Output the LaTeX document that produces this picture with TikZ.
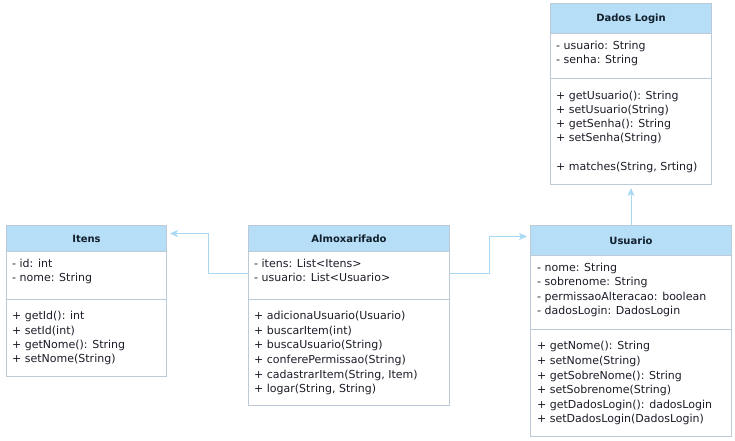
\documentclass[tikz,border=0pt]{standalone}
\usepackage{fontspec}
\setmainfont{DejaVu Sans}
\usetikzlibrary{arrows.meta}
\definecolor{headcol}{HTML}{B6DEF6}
\definecolor{bordcol}{HTML}{BCC9D6}
\definecolor{txtcol}{HTML}{1C1C28}
\definecolor{titcol}{HTML}{13202E}
\definecolor{conncol}{HTML}{A9D8F2}
\tikzset{
  classbox/.style={draw=bordcol, line width=1pt, fill=white, inner sep=0pt},
  headbox/.style={draw=bordcol, line width=1pt, fill=headcol, inner sep=0pt, text=titcol, font=\fontsize{10}{12}\selectfont\bfseries},
  sepline/.style={draw=bordcol, line width=1pt},
  mem/.style={anchor=west, inner sep=0pt, text=txtcol, font=\fontsize{11}{13}\selectfont, text height=8pt, text depth=2pt},
  conn/.style={draw=conncol, line width=1pt, -{Stealth[length=8pt,width=7pt,inset=2pt]}, shorten >=3pt}
}
\begin{document}
\begin{tikzpicture}[x=1pt,y=-1pt]
\useasboundingbox (0,0) rectangle (735,440);

% Itens
\node[classbox, minimum width=160pt, minimum height=151pt] (itens) at (86.5,301) {};
\node[headbox, minimum width=160pt, minimum height=26pt, anchor=north] (itensH) at (itens.north) {Itens};
\draw[sepline] (6.5,299.5) -- (166.5,299.5);
\node[mem] (i1) at (12,264.5) {- id: int};
\node[mem] (i2) at (12,278.5) {- nome: String};
\node[mem] (i3) at (12,316.5) {+ getId(): int};
\node[mem] (i4) at (12,331) {+ setId(int)};
\node[mem] (i5) at (12,345.5) {+ getNome(): String};
\node[mem] (i6) at (12,359.5) {+ setNome(String)};

% Almoxarifado
\node[classbox, minimum width=201pt, minimum height=180pt] (almox) at (349,315.5) {};
\node[headbox, minimum width=201pt, minimum height=26pt, anchor=north] (almoxH) at (almox.north) {Almoxarifado};
\draw[sepline] (248.5,299.5) -- (449.5,299.5);
\node[mem] (a1) at (254,264.5) {- itens: List<Itens>};
\node[mem] (a2) at (254,278.5) {- usuario: List<Usuario>};
\node[mem] (a3) at (254,316.5) {+ adicionaUsuario(Usuario)};
\node[mem] (a4) at (254,331) {+ buscarItem(int)};
\node[mem] (a5) at (254,345.5) {+ buscaUsuario(String)};
\node[mem] (a6) at (254,360) {+ conferePermissao(String)};
\node[mem] (a7) at (254,375) {+ cadastrarItem(String, Item)};
\node[mem] (a8) at (254,389.5) {+ logar(String, String)};

% Usuario
\node[classbox, minimum width=201pt, minimum height=211pt] (usu) at (631,331) {};
\node[headbox, minimum width=201pt, minimum height=30pt, anchor=north] (usuH) at (usu.north) {Usuario};
\draw[sepline] (530.5,329.5) -- (731.5,329.5);
\node[mem] (u1) at (537,268) {- nome: String};
\node[mem] (u2) at (537,282.5) {- sobrenome: String};
\node[mem] (u3) at (537,297) {- permissaoAlteracao: boolean};
\node[mem] (u4) at (537,311.5) {- dadosLogin: DadosLogin};
\node[mem] (u5) at (537,346.5) {+ getNome(): String};
\node[mem] (u6) at (537,361) {+ setNome(String)};
\node[mem] (u7) at (537,376) {+ getSobreNome(): String};
\node[mem] (u8) at (537,390) {+ setSobrenome(String)};
\node[mem] (u9) at (537,405) {+ getDadosLogin(): dadosLogin};
\node[mem] (u10) at (537,419.5) {+ setDadosLogin(DadosLogin)};

% Dados Login
\node[classbox, minimum width=161pt, minimum height=181pt] (dados) at (631,94) {};
\node[headbox, minimum width=161pt, minimum height=30pt, anchor=north] (dadosH) at (dados.north) {Dados Login};
\draw[sepline] (550.5,78.5) -- (711.5,78.5);
\node[mem] (d1) at (556,46.5) {- usuario: String};
\node[mem] (d2) at (556,60.5) {- senha: String};
\node[mem] (d3) at (556,96) {+ getUsuario(): String};
\node[mem] (d4) at (556,110) {+ setUsuario(String)};
\node[mem] (d5) at (556,124.5) {+ getSenha(): String};
\node[mem] (d6) at (556,138.5) {+ setSenha(String)};
\node[mem] (d7) at (556,167.5) {+ matches(String, Srting)};

% connectors
\coordinate (yA) at (0,273.5);
\coordinate (yI) at (0,233.5);
\coordinate (yU) at (0,236.5);
\coordinate (bendI) at (208.5,0);
\coordinate (bendU) at (489.5,0);
\draw[conn] (almox.west |- yA) -- (bendI |- yA) -- (bendI |- yI) -- (itens.east |- yI);
\draw[conn] (almox.east |- yA) -- (bendU |- yA) -- (bendU |- yU) -- (usu.west |- yU);
\draw[conn] (usu.north) -- (dados.south);
\end{tikzpicture}
\end{document}
